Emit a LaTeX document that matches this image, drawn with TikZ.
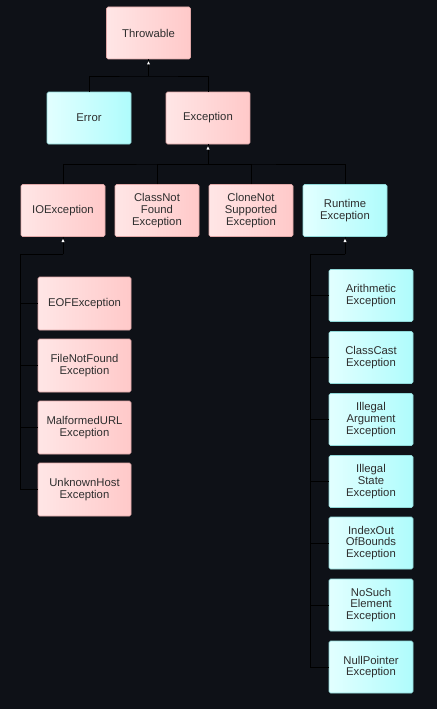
\documentclass[tikz,border=0pt]{standalone}
\usepackage{fontspec}
\setmainfont{Liberation Sans}
\usetikzlibrary{arrows.meta}
\definecolor{bg}{HTML}{0E1117}
\definecolor{pinkA}{HTML}{FFE6E6}
\definecolor{pinkB}{HTML}{FFC9C9}
\definecolor{pinkE}{HTML}{E0A8A8}
\definecolor{cyanA}{HTML}{E2FFFF}
\definecolor{cyanB}{HTML}{AFFCFC}
\definecolor{cyanE}{HTML}{90D8D8}
\definecolor{txt}{HTML}{2E2E2E}
\tikzset{
  box/.style={minimum width=84pt, minimum height=52pt, inner sep=1pt, rounded corners=1.5pt,
    align=center, text=txt, font=\fontsize{11.3}{11.6}\selectfont, line width=0.6pt},
  pbox/.style={box, draw=pinkE, left color=pinkA, right color=pinkB},
  cbox/.style={box, draw=cyanE, left color=cyanA, right color=cyanB},
  wide/.style={minimum width=93pt, minimum height=53pt},
  conn/.style={draw=black, line width=0.8pt},
  tip/.style={fill=white, draw=none}
}
\begin{document}
\begin{tikzpicture}[x=1pt,y=-1pt]
\fill[bg] (0,0) rectangle (437,709);
\useasboundingbox (0,0) rectangle (437,709);
% nodes
\node[pbox] (thr) at (148.5,33) {Throwable};
\node[cbox] (err) at (89,118) {Error};
\node[pbox] (exc) at (208,118) {Exception};
\node[pbox] (io) at (63,210.5) {IOException};
\node[pbox] (cnf) at (157,210.5) {ClassNot\\Found\\Exception};
\node[pbox] (cns) at (251,210.5) {CloneNot\\Supported\\Exception};
\node[cbox] (rt) at (345,210.5) {Runtime\\Exception};
\node[pbox,wide] (eof) at (84.5,303.5) {EOFException};
\node[pbox,wide] (fnf) at (84.5,365.5) {FileNotFound\\Exception};
\node[pbox,wide] (mal) at (84.5,427.5) {MalformedURL\\Exception};
\node[pbox,wide] (unk) at (84.5,489.5) {UnknownHost\\Exception};
\node[cbox] (ari) at (371,295.5) {Arithmetic\\Exception};
\node[cbox] (ccs) at (371,357.5) {ClassCast\\Exception};
\node[cbox] (ila) at (371,419.5) {Illegal\\Argument\\Exception};
\node[cbox] (ils) at (371,481.5) {Illegal\\State\\Exception};
\node[cbox] (iob) at (371,543) {IndexOut\\OfBounds\\Exception};
\node[cbox] (nse) at (371,605) {NoSuch\\Element\\Exception};
\node[cbox] (npe) at (371,667) {NullPointer\\Exception};
% junction coordinates
\coordinate (j1) at (148.5,76);
\coordinate (j2) at (208,164);
\coordinate (j3) at (63,254);
\coordinate (j4) at (345,254);
% connectors
\draw[conn] (thr.south) -- (j1);
\draw[conn] (err.north) |- (j1) -| (exc.north);
\draw[conn] (exc.south) -- (j2);
\draw[conn] (io.north) |- (j2) -| (rt.north);
\draw[conn] (cnf.north) |- (j2);
\draw[conn] (cns.north) |- (j2);
\draw[conn] (io.south) -- (j3);
\draw[conn] (j3) -- ++(-43,0) |- (unk.west);
\draw[conn] (eof.west) -- ++(-18,0);
\draw[conn] (fnf.west) -- ++(-18,0);
\draw[conn] (mal.west) -- ++(-18,0);
\draw[conn] (rt.south) -- (j4);
\draw[conn] (j4) -- ++(-35,0) |- (npe.west);
\foreach \n in {ari,ccs,ila,ils,iob,nse} \draw[conn] (\n.west) -- ++(-19,0);
% arrow tips
\foreach \n in {thr,exc,io,rt}
  \fill[tip] ([yshift=-2pt]\n.south) -- ++(-1.5,3.2) -- ++(3,0) -- cycle;
\end{tikzpicture}
\end{document}
